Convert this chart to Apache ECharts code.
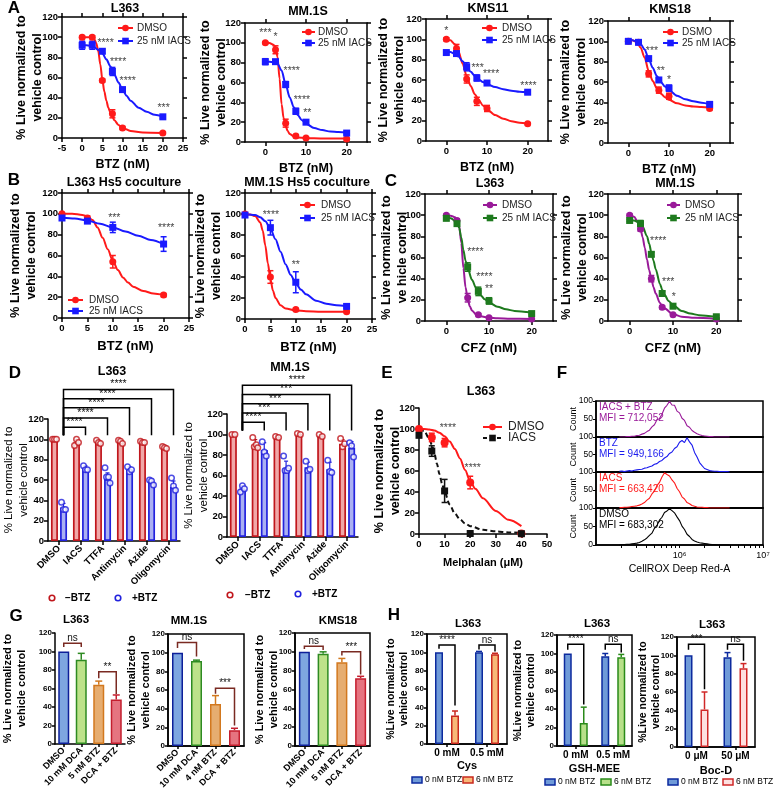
<!DOCTYPE html>
<html>
<head>
<meta charset="utf-8">
<title>Figure</title>
<script src="https://cdn.jsdelivr.net/npm/echarts@6.0.0/dist/echarts.min.js"></script>
<style>
html,body{margin:0;padding:0;background:#fff;}
#chart{width:780px;height:792px;}
</style>
</head>
<body>
<div id="chart"></div>
<script>
// ================= DATA =================
const btzDose = [0, 2.5, 5, 7.5, 10, 20];
const hs5Dose = [0, 5, 10, 20];
const cfzDose = [0, 2.5, 5, 7.5, 10, 20];
const melDose = [0, 5, 10, 20, 40];

// A - L363
const aL363Dmso = [100, 100, 57, 24, 10, 5];
const aL363DmsoErr = [1.5, 1.5, 1.5, 4, 1.5, 1];
const aL363Iacs = [92, 92, 86, 66, 48, 21];
const aL363IacsErr = [4, 4, 2, 4, 2, 1.5];
const aL363DmsoFitX = [0, 1, 2, 2.5, 3, 3.5, 4, 4.5, 5, 5.5, 6, 6.5, 7, 7.5, 8, 9, 10, 12, 15, 20];
const aL363DmsoFitY = [100, 100, 100, 99.5, 98, 94, 86, 73, 58, 46, 37, 30, 25, 21, 17.5, 13, 10, 7, 5.5, 5];
const aL363IacsFitX = [0, 1, 2, 3, 4, 5, 6, 7, 8, 9, 10, 11, 12, 14, 16, 18, 20];
const aL363IacsFitY = [92, 92, 91.5, 90, 87.5, 84, 78, 71, 63, 55, 48, 42, 37, 30, 26, 23, 21];
const aL363Stars = [[5.8, 94, '****'], [8.9, 75, '****'], [11.3, 56, '****'], [20.2, 30, '***']];

// A - MM.1S
const aMM1SDmso = [100, 93, 19, 6, 4, 3];
const aMM1SDmsoErr = [1, 4, 4, 1.5, 1, 1];
const aMM1SIacs = [81, 81, 58, 31, 20, 9];
const aMM1SIacsErr = [3, 2, 3, 3, 2, 1];
const aMM1SDmsoFitX = [0, 1, 2, 2.5, 3, 3.5, 4, 4.5, 5, 5.5, 6, 7, 8, 10, 12, 15, 20];
const aMM1SDmsoFitY = [100, 99.8, 98, 95, 86, 64, 38, 24, 16, 11, 8, 5.5, 4.5, 4, 3.7, 3.5, 3.5];
const aMM1SIacsFitX = [0, 1, 2, 3, 4, 5, 6, 7, 8, 9, 10, 12, 14, 16, 18, 20];
const aMM1SIacsFitY = [81, 81, 80.5, 79, 72, 58, 45, 35, 27, 22, 18.5, 14, 12, 10.5, 10, 9.5];
const aMM1SStars = [[0, 110, '***'], [2.5, 106, '*'], [6.5, 71, '****'], [9, 42, '****'], [10.3, 29, '**']];

// A - KMS11
const aKMS11Dmso = [100, 91, 61, 39, 32, 17];
const aKMS11DmsoErr = [1.5, 4, 4, 4, 3, 1];
const aKMS11Iacs = [87, 86, 73, 62, 57, 48];
const aKMS11IacsErr = [1.5, 2, 4, 3, 2, 1.5];
const aKMS11DmsoFitX = [0, 1, 2, 3, 4, 5, 6, 7, 8, 9, 10, 12, 14, 16, 18, 20];
const aKMS11DmsoFitY = [100, 99, 95.5, 88, 76, 64, 54, 46, 40, 35, 31, 25.5, 22, 19.5, 18, 17];
const aKMS11IacsFitX = [0, 1, 2, 3, 4, 5, 6, 7, 8, 9, 10, 12, 14, 16, 18, 20];
const aKMS11IacsFitY = [88, 87.5, 86, 83, 78.5, 73, 68, 64, 60.5, 58, 56, 53, 51, 49.5, 48.5, 48];
const aKMS11Stars = [[0, 108, '*'], [7.7, 72, '***'], [11, 66, '****'], [20.2, 54, '****']];

// A - KMS18
const aKMS18Dmso = [100, 99, 68, 52, 46, 34];
const aKMS18DmsoErr = [1, 1, 3, 3, 3, 1.5];
const aKMS18Iacs = [100, 99, 83, 62, 54, 38];
const aKMS18IacsErr = [1, 1, 2, 2, 3, 1.5];
const aKMS18DmsoFitX = [0, 1, 2, 3, 4, 5, 6, 7, 8, 9, 10, 12, 14, 16, 18, 20];
const aKMS18DmsoFitY = [101, 101, 99.5, 94, 84, 71, 61, 54, 48.5, 45, 42.5, 39, 37, 36, 35.5, 35];
const aKMS18IacsFitX = [0, 1, 2, 3, 4, 5, 6, 7, 8, 9, 10, 12, 14, 16, 18, 20];
const aKMS18IacsFitY = [101, 101, 100, 97.5, 92, 83, 74, 66, 60, 55.5, 52, 46.5, 43, 41, 39.5, 38];
const aKMS18Stars = [[5.8, 90, '***'], [8, 71, '**'], [10, 62, '*']];

// B - L363 Hs5 coculture
const bL363Dmso = [100, 96, 54, 22];
const bL363DmsoErr = [1, 2, 6, 1.5];
const bL363Iacs = [96, 93, 87, 71];
const bL363IacsErr = [1.5, 2, 5, 7];
const bL363DmsoFitX = [0, 2, 4, 5, 6, 7, 8, 9, 10, 11, 12, 13, 14, 16, 18, 20];
const bL363DmsoFitY = [100, 100, 99, 97.5, 94, 87, 77, 66, 55, 46, 39, 34, 30, 26, 23.5, 22];
const bL363IacsFitX = [0, 2.5, 5, 7.5, 10, 12.5, 15, 17.5, 20];
const bL363IacsFitY = [96.5, 95.5, 93.5, 90.5, 87, 83, 79, 75, 71];
const bL363Stars = [[10.3, 96, '***'], [20.5, 86, '****']];

// B - MM.1S Hs5 coculture
const bMM1SDmso = [100, 40, 9, 7];
const bMM1SDmsoErr = [1, 6, 1, 1];
const bMM1SIacs = [99, 87, 35, 12];
const bMM1SIacsErr = [1, 7, 10, 1.5];
const bMM1SDmsoFitX = [0, 1, 2, 3, 3.5, 4, 4.5, 5, 5.5, 6, 7, 8, 10, 12, 15, 20];
const bMM1SDmsoFitY = [100, 99.5, 98, 92, 84, 70, 53, 38, 27, 20, 13, 10, 8, 7.5, 7, 7];
const bMM1SIacsFitX = [0, 2, 3, 4, 5, 6, 7, 8, 9, 10, 11, 12, 14, 16, 18, 20];
const bMM1SIacsFitY = [100, 99, 97, 93, 86, 76, 64, 52, 42, 34, 28, 23.5, 17.5, 14.5, 13, 12];
const bMM1SStars = [[5.1, 99, '****'], [10, 51, '**']];

// C - L363 CFZ
const cL363Dmso = [100, 95, 22, 6, 3, 2];
const cL363DmsoErr = [1, 1.5, 4, 1, 1, 0.5];
const cL363Iacs = [97, 92, 51, 28, 19, 7];
const cL363IacsErr = [1.5, 1.5, 4, 4, 3, 1];
const cL363DmsoFitX = [0, 1, 2, 2.5, 3, 3.5, 4, 4.5, 5, 5.5, 6, 7, 8, 10, 12, 15, 20];
const cL363DmsoFitY = [100, 99.5, 98, 96, 90, 74, 50, 32, 21, 14, 10, 6, 4.5, 3, 2.6, 2.2, 2];
const cL363IacsFitX = [0, 1, 2, 2.5, 3, 3.5, 4, 4.5, 5, 6, 7, 7.5, 8, 9, 10, 12, 14, 16, 20];
const cL363IacsFitY = [98, 97, 95, 93, 88, 79, 67, 57, 50, 39, 31, 27.5, 24.5, 20.5, 17.5, 13.5, 11, 9.5, 8];
const cL363Stars = [[6.8, 65, '****'], [8.9, 41.5, '****'], [10, 30, '**']];

// C - MM.1S CFZ
const cMM1SDmso = [100, 87, 40, 13, 6, 2];
const cMM1SDmsoErr = [1, 2, 3, 1.5, 1, 0.5];
const cMM1SIacs = [95, 92, 63, 26, 14, 4];
const cMM1SIacsErr = [1, 3, 2, 2, 2, 1];
const cMM1SDmsoFitX = [0, 1, 2, 2.5, 3, 3.5, 4, 4.5, 5, 5.5, 6, 7, 7.5, 8, 10, 12, 15, 20];
const cMM1SDmsoFitY = [100, 98.5, 93, 87, 79, 69, 58, 48, 40, 32, 26, 17, 14, 12, 6.5, 4, 3, 2];
const cMM1SIacsFitX = [0, 1, 2, 2.5, 3, 4, 4.5, 5, 5.5, 6, 7, 7.5, 8, 9, 10, 12, 14, 16, 20];
const cMM1SIacsFitY = [95.5, 95, 93.5, 92, 89, 80, 73, 65, 57, 49, 35, 29.5, 25, 19, 15, 9.5, 7, 5.5, 4];
const cMM1SStars = [[6.6, 75.7, '****'], [8.9, 36.5, '***'], [10.2, 23, '*']];

// D - mitochondrial inhibitors
const dCats = ['DMSO', 'IACS', 'TTFA', 'Antimycin', 'Azide', 'Oligomycin'];
const dL363Minus = [100, 97, 97.5, 97.5, 97.5, 92];
const dL363MinusErr = [0.5, 3, 1.5, 1.5, 0.5, 1];
const dL363Plus = [33, 71, 61, 70, 58, 53];
const dL363PlusErr = [4, 3, 6, 3, 3, 6];
const dL363MinusPts = [[100, 100, 100], [94, 100, 97], [99, 97, 96], [99, 98, 96], [98, 97, 97], [93, 92, 91]];
const dL363PlusPts = [[38, 31, 31], [74, 70, 70], [72, 63, 63, 57], [73, 68, 70], [60, 59, 55], [62, 54, 50]];
const dL363Brackets = [[1, 112, '****'], [2, 121, '****'], [3, 131, '****'], [4, 140, '****'], [5, 149, '****']];

const dMM1SMinus = [100, 90, 98, 100.5, 99, 91];
const dMM1SMinusErr = [0.5, 5, 1, 1, 1, 4];
const dMM1SPlus = [47, 85, 67, 68, 66, 87];
const dMM1SPlusErr = [3, 7, 7, 5, 7, 6];
const dMM1SMinusPts = [[100, 100], [97, 88, 90, 87], [98, 97], [101, 100], [100, 98], [96, 88, 91]];
const dMM1SPlusPts = [[44, 50, 47], [93, 83, 79], [79, 65, 65, 67], [74, 65, 66], [75, 64, 63], [92, 89, 78]];
const dMM1SBrackets = [[1, 112, '****'], [2, 121, '***'], [3, 130, '***'], [4, 139, '***'], [5, 148, '****']];

// E - Melphalan
const eDmso = [100, 92, 87, 49, 0.5];
const eDmsoErr = [1, 4, 4, 6, 0.5];
const eIacs = [94, 79, 41, 0.5, 0.3];
const eIacsErr = [2, 5, 11, 0.5, 0.3];
const eDmsoFitX = [0, 2, 4, 6, 8, 10, 12, 14, 16, 18, 20, 22, 25, 30, 35, 40];
const eDmsoFitY = [100, 100, 99.5, 98.5, 96.5, 93, 88, 81, 72, 61, 50, 43, 34, 22, 13.5, 7.5];
const eIacsFitX = [0, 2, 4, 5, 6, 7, 8, 9, 10, 12, 14, 16, 18, 20, 25, 30, 35, 40];
const eIacsFitY = [100, 98, 91, 85, 77, 67, 57, 48, 40, 28, 19.5, 14, 10, 7.5, 4, 2.5, 1.5, 1];
const eStars = [[11.3, 101, '****'], [21, 63, '****']];

// F - CellROX histograms (x = log10 fluorescence)
const histX = [5.28, 5.31, 5.34, 5.37, 5.40, 5.43, 5.46, 5.49, 5.52, 5.55, 5.58, 5.61, 5.64, 5.67, 5.70, 5.73, 5.76, 5.79, 5.82, 5.85, 5.88, 5.91, 5.94, 5.97, 6.00, 6.03, 6.06, 6.09, 6.12, 6.15, 6.18, 6.21, 6.24, 6.27, 6.30, 6.33, 6.36, 6.39, 6.42, 6.45, 6.48, 6.51, 6.54, 6.57, 6.60];
const histIacsBtz = [0, 0, 0, 1, 1, 2, 2, 4, 5, 8, 10, 15, 19, 28, 34, 48, 51, 63, 80, 88, 99, 89, 88, 72, 67, 52, 46, 31, 27, 18, 13, 9, 6, 4, 3, 2, 1, 1, 0, 0, 0, 0, 0, 0, 0];
const histBtz = [2, 3, 1, 3, 4, 3, 5, 6, 7, 8, 11, 12, 15, 17, 22, 24, 30, 33, 40, 44, 53, 57, 67, 72, 85, 90, 84, 98, 86, 77, 56, 43, 27, 18, 10, 7, 4, 3, 2, 2, 1, 1, 1, 1, 0];
const histIacs = [1, 1, 2, 2, 3, 4, 5, 6, 8, 11, 15, 22, 27, 39, 47, 62, 71, 86, 98, 93, 89, 78, 70, 55, 45, 31, 25, 15, 12, 7, 5, 3, 2, 2, 1, 1, 0, 0, 0, 0, 0, 0, 0, 0, 0];
const histDmso = [0, 1, 1, 2, 2, 3, 4, 5, 7, 10, 14, 19, 26, 32, 45, 53, 67, 75, 88, 92, 98, 93, 87, 76, 66, 51, 42, 29, 23, 15, 11, 8, 6, 5, 4, 3, 2, 1, 1, 0, 0, 0, 0, 0, 0];
const histLabels = ['IACS + BTZ', 'BTZ', 'IACS', 'DMSO'];
const histMfi = ['MFI = 712,052', 'MFI = 949,166', 'MFI = 663,420', 'MFI = 683,302'];
const histTicks = [5.301, 5.477, 5.602, 5.699, 5.778, 5.845, 5.903, 5.954, 6, 6.301, 6.477, 6.602, 6.699, 6.778, 6.845, 6.903, 6.954, 7];

// G - DCA
const gCatsL363 = ['DMSO', '10 mM DCA', '5 nM BTZ', 'DCA + BTZ'];
const gCatsMM1S = ['DMSO', '10 mM DCA', '4 nM BTZ', 'DCA + BTZ'];
const gCatsKMS18 = ['DMSO', '10 mM DCA', '5 nM BTZ', 'DCA + BTZ'];
const gL363 = [100, 91, 64, 48];
const gL363Err = [0, 7, 4, 5];
const gMM1S = [100, 91, 45, 17];
const gMM1SErr = [0, 1, 9, 2];
const gKMS18 = [100, 98, 89, 72];
const gKMS18Err = [0, 2, 4, 2];
const gL363Br = [[0, 1, 109, 105, 105, 'ns'], [2, 3, 78, 71, 54, '**']];
const gMM1SBr = [[0, 1, 111, 105, 96, 'ns'], [2, 3, 62, 56, 22, '***']];
const gKMS18Br = [[0, 1, 106, 103, 102, 'ns'], [2, 3, 100, 96, 76, '***']];

// H - antioxidants
const hCatsCys = ['0 mM', '0.5 mM'];
const hCatsGsh = ['0 mM', '0.5 mM'];
const hCatsBoc = ['0 \u03bcM', '50 \u03bcM'];
const hCysCtl = [100, 100];
const hCysCtlErr = [0, 1];
const hCysBtz = [31, 98];
const hCysBtzErr = [5, 1];
const hGshCtl = [100, 97];
const hGshCtlErr = [0, 3];
const hGshBtz = [25, 96];
const hGshBtzErr = [17, 3];
const hBocCtl = [100, 98];
const hBocCtlErr = [0, 5];
const hBocBtz = [41, 86];
const hBocBtzErr = [19, 5];
const hCysBr = [[0, 108, 104, 42, '****'], [1, 108, 103, 101, 'ns']];
const hGshBr = [[0, 110, 104, 45, '****'], [1, 110, 104, 101, 'ns']];
const hBocBr = [[0, 112, 106, 63, '***'], [1, 112, 106, 94, 'ns']];

// ================= BUILD =================
const FONT = '"Liberation Sans", Arial, Helvetica, sans-serif';
const NARROW = '"Liberation Sans Narrow", "Liberation Sans", Arial, sans-serif';
const YNAME = '% Live normalized to\nvehicle control';
const RED = '#ff1a1a', BLUE = '#1a1aff', PURPLE = '#991a99', GREEN = '#1e7a1e';

const option = {animation: false, backgroundColor: '#fff', textStyle: {fontFamily: FONT},
  grid: [], xAxis: [], yAxis: [], series: []};
const G = [];

function deep(o) { return JSON.parse(JSON.stringify(o)); }
function axLine() { return {show: true, onZero: false, lineStyle: {color: '#000', width: 1.5}}; }
function axTick(len) { return {show: true, length: len || 4, lineStyle: {color: '#000', width: 1.5}}; }
function axLab(fs, w, m) { return {show: true, color: '#000', fontFamily: FONT, fontSize: fs, fontWeight: w || 'bold', margin: m == null ? 4 : m}; }
function nameStyle(fs, w, lh) { return {color: '#000', fontFamily: FONT, fontSize: fs, fontWeight: w || 'bold', lineHeight: lh || fs + 2}; }
function addGrid(l, t, w, h, box) {
  option.grid.push({left: l, top: t, width: w, height: h, outerBoundsMode: 'none', containLabel: false,
    show: !!box, borderColor: '#000', borderWidth: 1.5, backgroundColor: 'transparent'});
  return option.grid.length - 1;
}
function txt(x, y, s, o) {
  o = o || {};
  G.push({type: 'text', x: x, y: y, rotation: o.rot || 0, silent: true, z: 20,
    style: {text: s, fill: o.color || '#000', font: (o.w || 'bold') + ' ' + (o.fs || 12) + 'px ' + (o.family || FONT),
      textAlign: o.align || 'center', textVerticalAlign: o.va || 'middle', align: o.align || 'center', verticalAlign: o.va || 'middle'}});
}
function legLine(x1, x2, y, color, sym, dashed, label, tx, fs, fam) {
  G.push({type: 'line', silent: true, z: 20, shape: {x1: x1, y1: y, x2: x2, y2: y},
    style: {stroke: color, lineWidth: 2, lineDash: dashed ? [4, 3] : null}});
  const cx = (x1 + x2) / 2;
  if (sym === 'circle') G.push({type: 'circle', silent: true, z: 21, shape: {cx: cx, cy: y, r: 3.3}, style: {fill: color}});
  else G.push({type: 'rect', silent: true, z: 21, shape: {x: cx - 3.3, y: y - 3.3, width: 6.6, height: 6.6}, style: {fill: color}});
  txt(tx, y, label, {w: 'normal', fs: fs || 10, align: 'left', color: '#222', family: fam || NARROW});
}
function errSeries(xi, yi, pts, opt) {
  return {type: 'custom', xAxisIndex: xi, yAxisIndex: yi, silent: true, z: opt.z || 3, data: pts,
    renderItem: function (params, api) {
      const x = api.value(0), y = api.value(1), e = api.value(2);
      if (!(e > 0)) return {type: 'group', children: []};
      const col = opt.colors ? opt.colors[params.dataIndex] : opt.color;
      const top = api.coord([x, y + e]);
      const bot = api.coord([x, opt.up ? y : y - e]);
      const cx = top[0] + (opt.offset || 0);
      const cw = opt.cap || 3, lw = opt.lw || 1.5;
      const ch = [
        {type: 'line', shape: {x1: cx, y1: top[1], x2: cx, y2: bot[1]}, style: {stroke: col, lineWidth: lw}},
        {type: 'line', shape: {x1: cx - cw, y1: top[1], x2: cx + cw, y2: top[1]}, style: {stroke: col, lineWidth: lw}}
      ];
      if (!opt.up) ch.push({type: 'line', shape: {x1: cx - cw, y1: bot[1], x2: cx + cw, y2: bot[1]}, style: {stroke: col, lineWidth: lw}});
      return {type: 'group', children: ch};
    }};
}
function starSeries(xi, yi, stars, fs) {
  return {type: 'scatter', xAxisIndex: xi, yAxisIndex: yi, silent: true, z: 6, symbolSize: 1,
    itemStyle: {color: 'transparent'},
    data: stars.map(s => ({name: s[2], value: [s[0], s[1]]})),
    label: {show: true, position: 'inside', formatter: '{b}', color: '#111', fontFamily: FONT, fontSize: fs || 10.5}};
}

function curvePanel(p) {
  const gi = addGrid(p.l, p.t, p.w, p.h, false);
  const xi = option.xAxis.length, yi = option.yAxis.length;
  const xa = {gridIndex: gi, type: 'value', position: 'bottom', min: p.xmin, max: p.xmax,
    name: p.xname, nameLocation: 'middle', nameGap: p.xng, nameMoveOverlap: false, nameTextStyle: nameStyle(p.xnfs || 12.5),
    axisLine: axLine(), axisTick: axTick(4), axisLabel: axLab(p.tfs || 9.5, 'bold', 5), splitLine: {show: false}};
  if (p.xint) xa.interval = p.xint;
  if (p.xvals) { xa.axisLabel.customValues = p.xvals; xa.axisTick.customValues = p.xvals; }
  const ya = {gridIndex: gi, type: 'value', position: 'left', min: 0, max: 120, interval: 20,
    name: p.yname || YNAME, nameLocation: 'middle', nameRotate: 90, nameGap: p.yng, nameMoveOverlap: false,
    nameTextStyle: nameStyle(p.ynfs || 12.5, 'bold', p.ynlh || 15.5),
    axisLine: axLine(), axisTick: axTick(4), axisLabel: axLab(p.tfs || 9.5, 'bold', 4), splitLine: {show: false}};
  option.xAxis.push(xa); option.yAxis.push(ya);
  if (p.box) {
    const xb = deep(xa); xb.position = 'top'; xb.name = ''; xb.axisLabel.show = false; option.xAxis.push(xb);
    const yb = deep(ya); yb.position = 'right'; yb.name = ''; yb.axisLabel.show = false; option.yAxis.push(yb);
  }
  p.curves.forEach(c => {
    option.series.push({type: 'line', xAxisIndex: xi, yAxisIndex: yi, silent: true, z: 2,
      data: c.fx.map((x, i) => [x, c.fy[i]]), smooth: 0.3, smoothMonotone: 'x', symbol: 'none', showSymbol: false,
      lineStyle: {color: c.color, width: 2, type: c.dashed ? [5, 3] : 'solid'}});
    option.series.push(errSeries(xi, yi, c.x.map((x, i) => [x, c.y[i], c.err[i]]), {color: c.color, cap: 3, lw: 1.5}));
    option.series.push({type: 'scatter', xAxisIndex: xi, yAxisIndex: yi, silent: true, z: 4,
      data: c.x.map((x, i) => [x, c.y[i]]), symbol: c.symbol, symbolSize: c.size || 7,
      itemStyle: {color: c.color, opacity: 1}});
  });
  if (p.stars) option.series.push(starSeries(xi, yi, p.stars));
  return [xi, yi];
}

// ---------- Row A ----------
curvePanel({l: 62, t: 17, w: 121, h: 121, xmin: -5, xmax: 25, xint: 5, xname: 'BTZ (nM)', xng: 19, yng: 17, box: true,
  curves: [
    {color: RED, symbol: 'circle', x: btzDose, y: aL363Dmso, err: aL363DmsoErr, fx: aL363DmsoFitX, fy: aL363DmsoFitY},
    {color: BLUE, symbol: 'rect', x: btzDose, y: aL363Iacs, err: aL363IacsErr, fx: aL363IacsFitX, fy: aL363IacsFitY}],
  stars: aL363Stars});
curvePanel({l: 245, t: 23, w: 122, h: 119, xmin: -5, xmax: 25, xvals: [0, 10, 20], xname: 'BTZ (nM)', xng: 19, yng: 16, box: true,
  curves: [
    {color: RED, symbol: 'circle', x: btzDose, y: aMM1SDmso, err: aMM1SDmsoErr, fx: aMM1SDmsoFitX, fy: aMM1SDmsoFitY},
    {color: BLUE, symbol: 'rect', x: btzDose, y: aMM1SIacs, err: aMM1SIacsErr, fx: aMM1SIacsFitX, fy: aMM1SIacsFitY}],
  stars: aMM1SStars});
curvePanel({l: 426, t: 19, w: 122, h: 122, xmin: -5, xmax: 25, xvals: [0, 10, 20], xname: 'BTZ (nM)', xng: 19, yng: 19, box: true,
  curves: [
    {color: RED, symbol: 'circle', x: btzDose, y: aKMS11Dmso, err: aKMS11DmsoErr, fx: aKMS11DmsoFitX, fy: aKMS11DmsoFitY},
    {color: BLUE, symbol: 'rect', x: btzDose, y: aKMS11Iacs, err: aKMS11IacsErr, fx: aKMS11IacsFitX, fy: aKMS11IacsFitY}],
  stars: aKMS11Stars});
curvePanel({l: 608, t: 21, w: 122, h: 122, xmin: -5, xmax: 25, xvals: [0, 10, 20], xname: 'BTZ (nM)', xng: 19, yng: 19, box: true,
  curves: [
    {color: RED, symbol: 'circle', x: btzDose, y: aKMS18Dmso, err: aKMS18DmsoErr, fx: aKMS18DmsoFitX, fy: aKMS18DmsoFitY},
    {color: BLUE, symbol: 'rect', x: btzDose, y: aKMS18Iacs, err: aKMS18IacsErr, fx: aKMS18IacsFitX, fy: aKMS18IacsFitY}],
  stars: aKMS18Stars});

// ---------- Row B ----------
curvePanel({l: 62, t: 193, w: 127, h: 125, xmin: 0, xmax: 25, xint: 5, xname: 'BTZ (nM)', xng: 21, xnfs: 13, yng: 23, box: true,
  curves: [
    {color: RED, symbol: 'circle', x: hs5Dose, y: bL363Dmso, err: bL363DmsoErr, fx: bL363DmsoFitX, fy: bL363DmsoFitY},
    {color: BLUE, symbol: 'rect', x: hs5Dose, y: bL363Iacs, err: bL363IacsErr, fx: bL363IacsFitX, fy: bL363IacsFitY}],
  stars: bL363Stars});
curvePanel({l: 245, t: 193, w: 127, h: 126, xmin: 0, xmax: 25, xint: 5, xname: 'BTZ (nM)', xng: 21, xnfs: 13, yng: 21, box: true,
  curves: [
    {color: RED, symbol: 'circle', x: hs5Dose, y: bMM1SDmso, err: bMM1SDmsoErr, fx: bMM1SDmsoFitX, fy: bMM1SDmsoFitY},
    {color: BLUE, symbol: 'rect', x: hs5Dose, y: bMM1SIacs, err: bMM1SIacsErr, fx: bMM1SIacsFitX, fy: bMM1SIacsFitY}],
  stars: bMM1SStars});

// ---------- Row C ----------
curvePanel({l: 425, t: 194, w: 128, h: 127, xmin: -5, xmax: 25, xvals: [0, 10, 20], xname: 'CFZ (nM)', xng: 20, xnfs: 13, yng: 15, box: true,
  yname: '% Live normalized to\nve hicle control',
  curves: [
    {color: PURPLE, symbol: 'circle', x: cfzDose, y: cL363Dmso, err: cL363DmsoErr, fx: cL363DmsoFitX, fy: cL363DmsoFitY},
    {color: GREEN, symbol: 'rect', x: cfzDose, y: cL363Iacs, err: cL363IacsErr, fx: cL363IacsFitX, fy: cL363IacsFitY}],
  stars: cL363Stars});
curvePanel({l: 608, t: 194, w: 130, h: 127, xmin: -5, xmax: 25, xvals: [0, 10, 20], xname: 'CFZ (nM)', xng: 20, xnfs: 13, yng: 18, box: true,
  curves: [
    {color: PURPLE, symbol: 'circle', x: cfzDose, y: cMM1SDmso, err: cMM1SDmsoErr, fx: cMM1SDmsoFitX, fy: cMM1SDmsoFitY},
    {color: GREEN, symbol: 'rect', x: cfzDose, y: cMM1SIacs, err: cMM1SIacsErr, fx: cMM1SIacsFitX, fy: cMM1SIacsFitY}],
  stars: cMM1SStars});

// ---------- E ----------
curvePanel({l: 419, t: 408, w: 128, h: 126, xmin: 0, xmax: 50, xint: 10, xname: 'Melphalan (\u03bcM)', xng: 22, xnfs: 11, yng: 16, box: false,
  curves: [
    {color: RED, symbol: 'circle', size: 8, x: melDose, y: eDmso, err: eDmsoErr, fx: eDmsoFitX, fy: eDmsoFitY},
    {color: '#111', symbol: 'rect', x: melDose, y: eIacs, err: eIacsErr, fx: eIacsFitX, fy: eIacsFitY, dashed: true}],
  stars: eStars});

// ---------- D ----------
const jitter = {1: [0], 2: [-1.5, 1.5], 3: [-2, 0, 2], 4: [-2.5, -1, 1, 2.5]};
function dPanel(p) {
  const gi = addGrid(p.l, p.t, p.w, p.h, false);
  const xi = option.xAxis.length, yi = option.yAxis.length;
  option.xAxis.push({gridIndex: gi, type: 'category', data: dCats, axisLine: axLine(),
    axisTick: Object.assign(axTick(4), {alignWithLabel: true}),
    axisLabel: Object.assign(axLab(9.5, 'bold', 6), {rotate: 45, interval: 0}), splitLine: {show: false}});
  option.yAxis.push({gridIndex: gi, type: 'value', min: 0, max: 120, interval: 20, name: YNAME, nameLocation: 'middle',
    nameRotate: 90, nameGap: p.yng, nameMoveOverlap: false, nameTextStyle: nameStyle(11.5, 'normal', 15),
    axisLine: axLine(), axisTick: axTick(4), axisLabel: axLab(9.5, 'bold', 4), splitLine: {show: false}});
  option.series.push({type: 'bar', xAxisIndex: xi, yAxisIndex: yi, silent: true, z: 2, data: p.minus, barWidth: 7, barGap: '30%',
    itemStyle: {color: '#f0a8a8', borderColor: '#c0161c', borderWidth: 1.7}});
  option.series.push({type: 'bar', xAxisIndex: xi, yAxisIndex: yi, silent: true, z: 2, data: p.plus, barWidth: 7, barGap: '30%',
    itemStyle: {color: '#aab0f2', borderColor: '#2222dd', borderWidth: 1.7}});
  option.series.push(errSeries(xi, yi, p.minus.map((v, i) => [i, v, p.minusErr[i]]), {color: '#c0161c', offset: -4.5, up: true, cap: 2, lw: 1.2}));
  option.series.push(errSeries(xi, yi, p.plus.map((v, i) => [i, v, p.plusErr[i]]), {color: '#2222dd', offset: 4.5, up: true, cap: 2, lw: 1.2}));
  const mk = (pts, base) => {
    const out = [];
    pts.forEach((arr, i) => arr.forEach((v, j) => out.push({value: [i, v], symbolOffset: [base + jitter[arr.length][j], 0]})));
    return out;
  };
  option.series.push({type: 'scatter', xAxisIndex: xi, yAxisIndex: yi, silent: true, z: 5, data: mk(p.minusPts, -4.5),
    symbol: 'circle', symbolSize: 5.5, itemStyle: {color: '#fff', borderColor: '#c0161c', borderWidth: 1.5}});
  option.series.push({type: 'scatter', xAxisIndex: xi, yAxisIndex: yi, silent: true, z: 5, data: mk(p.plusPts, 4.5),
    symbol: 'circle', symbolSize: 5.5, itemStyle: {color: '#fff', borderColor: '#2222dd', borderWidth: 1.5}});
  return [xi, yi];
}
const axD1 = dPanel({l: 48, t: 419, w: 132, h: 122, yng: 17, minus: dL363Minus, minusErr: dL363MinusErr, plus: dL363Plus, plusErr: dL363PlusErr,
  minusPts: dL363MinusPts, plusPts: dL363PlusPts});
const axD2 = dPanel({l: 227, t: 414, w: 131, h: 123, yng: 16, minus: dMM1SMinus, minusErr: dMM1SMinusErr, plus: dMM1SPlus, plusErr: dMM1SPlusErr,
  minusPts: dMM1SMinusPts, plusPts: dMM1SPlusPts});

// ---------- F ----------
const fTops = [401, 437, 472, 508];
const fHeights = [36, 35, 36, 37];
const fData = [histIacsBtz, histBtz, histIacs, histDmso];
const fColors = [PURPLE, '#1a1aee', '#ff1a1a', '#000'];
fData.forEach((h, k) => {
  const last = k === 3;
  const gi = addGrid(596, fTops[k], 167, fHeights[k], true);
  const xi = option.xAxis.length, yi = option.yAxis.length;
  option.xAxis.push({gridIndex: gi, type: 'value', min: 5, max: 7,
    name: last ? 'CellROX Deep Red-A' : '', nameLocation: 'middle', nameGap: 18, nameMoveOverlap: false,
    nameTextStyle: nameStyle(10.5, 'normal'),
    axisLine: axLine(), axisTick: {show: last, length: 3, customValues: histTicks, lineStyle: {color: '#000', width: 1}},
    axisLabel: {show: last, customValues: [6, 7], formatter: v => (v === 6 ? '10\u2076' : '10\u2077'), color: '#000',
      fontFamily: FONT, fontSize: 9, margin: 6}, splitLine: {show: false}});
  option.yAxis.push({gridIndex: gi, type: 'value', min: 0, max: 100, name: 'Count', nameLocation: 'middle', nameRotate: 90,
    nameGap: 17, nameMoveOverlap: false, nameTextStyle: nameStyle(9, 'normal'),
    axisLine: axLine(), axisTick: {show: true, length: 3, customValues: [0, 50, 100], lineStyle: {color: '#000', width: 1}},
    axisLabel: {show: true, customValues: last ? [0, 50, 100] : [50, 100], color: '#000', fontFamily: FONT, fontSize: 8.5, margin: 3},
    splitLine: {show: false}});
  option.series.push({type: 'line', xAxisIndex: xi, yAxisIndex: yi, silent: true, symbol: 'none', showSymbol: false,
    data: histX.map((x, i) => [x, h[i]]), lineStyle: {color: fColors[k], width: 1.1}});
  txt(599, fTops[k] + 6, histLabels[k], {w: 'normal', fs: 10, align: 'left', color: fColors[k]});
  txt(599, fTops[k] + 17, histMfi[k], {w: 'normal', fs: 10, align: 'left', color: fColors[k]});
});

// ---------- G ----------
const gFill = ['#7ea6e0', '#bde28a', '#e6ad70', '#e57480'];
const gEdge = ['#0d1f99', '#2e8b22', '#d2781e', '#c41e2e'];
function gPanel(p) {
  const gi = addGrid(p.l, p.t, p.w, p.h, p.box);
  const xi = option.xAxis.length, yi = option.yAxis.length;
  option.xAxis.push({gridIndex: gi, type: 'category', data: p.cats, axisLine: axLine(),
    axisTick: Object.assign(axTick(3), {alignWithLabel: true}),
    axisLabel: Object.assign(axLab(9, 'bold', 5), {rotate: 45, interval: 0}), splitLine: {show: false}});
  option.yAxis.push({gridIndex: gi, type: 'value', min: 0, max: 120, interval: 20, name: YNAME, nameLocation: 'middle',
    nameRotate: 90, nameGap: p.yng, nameMoveOverlap: false, nameTextStyle: nameStyle(11, 'bold', 14),
    axisLine: axLine(), axisTick: axTick(3), axisLabel: axLab(8, 'bold', 3), splitLine: {show: false}});
  option.series.push({type: 'bar', xAxisIndex: xi, yAxisIndex: yi, silent: true, z: 2, barWidth: 11,
    data: p.vals.map((v, i) => ({value: v, itemStyle: {color: gFill[i], borderColor: gEdge[i], borderWidth: 1.5}}))});
  option.series.push(errSeries(xi, yi, p.vals.map((v, i) => [i, v, p.errs[i]]), {colors: gEdge, up: true, cap: 3.5, lw: 1.5}));
  return [xi, yi];
}
const axG1 = gPanel({l: 55, t: 633, w: 70, h: 111, box: false, yng: 26, cats: gCatsL363, vals: gL363, errs: gL363Err});
const axG2 = gPanel({l: 168, t: 634, w: 76, h: 112, box: true, yng: 15, cats: gCatsMM1S, vals: gMM1S, errs: gMM1SErr});
const axG3 = gPanel({l: 295, t: 633, w: 75, h: 113, box: true, yng: 14, cats: gCatsKMS18, vals: gKMS18, errs: gKMS18Err});

// ---------- H ----------
function hPanel(p) {
  const gi = addGrid(p.l, p.t, p.w, p.h, true);
  const xi = option.xAxis.length, yi = option.yAxis.length;
  option.xAxis.push({gridIndex: gi, type: 'category', data: p.cats, name: p.xname, nameLocation: 'middle', nameGap: p.xng,
    nameMoveOverlap: false, nameTextStyle: nameStyle(11, 'bold'), axisLine: axLine(),
    axisTick: Object.assign(axTick(3), {alignWithLabel: true}), axisLabel: Object.assign(axLab(10, 'bold', 4), {interval: 0}),
    splitLine: {show: false}});
  option.yAxis.push({gridIndex: gi, type: 'value', min: 0, max: 120, interval: 20, name: '%Live normalized to\nvehicle control',
    nameLocation: 'middle', nameRotate: 90, nameGap: p.yng, nameMoveOverlap: false, nameTextStyle: nameStyle(10.5, 'bold', 13),
    axisLine: axLine(), axisTick: axTick(3), axisLabel: axLab(8, 'bold', 3), splitLine: {show: false}});
  option.series.push({type: 'bar', xAxisIndex: xi, yAxisIndex: yi, silent: true, z: 2, barWidth: 8, barGap: '100%', data: p.ctl,
    itemStyle: {color: '#6f9ad8', borderColor: '#0c2a9e', borderWidth: 1.5}});
  option.series.push({type: 'bar', xAxisIndex: xi, yAxisIndex: yi, silent: true, z: 2, barWidth: 8, barGap: '100%', data: p.btz,
    itemStyle: {color: p.fill, borderColor: p.edge, borderWidth: 1.5}});
  option.series.push(errSeries(xi, yi, p.ctl.map((v, i) => [i, v, p.ctlErr[i]]), {color: '#0c2a9e', offset: -8, up: true, cap: 3, lw: 1.5}));
  option.series.push(errSeries(xi, yi, p.btz.map((v, i) => [i, v, p.btzErr[i]]), {color: p.edge, offset: 8, up: true, cap: 3, lw: 1.5}));
  return [xi, yi];
}
const axH1 = hPanel({l: 427, t: 634, w: 80, h: 110, xname: 'Cys', xng: 15, yng: 16, cats: hCatsCys, ctl: hCysCtl, ctlErr: hCysCtlErr,
  btz: hCysBtz, btzErr: hCysBtzErr, fill: '#f8b878', edge: '#c8281e'});
const axH2 = hPanel({l: 557, t: 635, w: 75, h: 111, xname: 'GSH-MEE', xng: 16, yng: 19, cats: hCatsGsh, ctl: hGshCtl, ctlErr: hGshCtlErr,
  btz: hGshBtz, btzErr: hGshBtzErr, fill: '#b8e08a', edge: '#2a8a1a'});
const axH3 = hPanel({l: 677, t: 637, w: 78, h: 110, xname: 'Boc-D', xng: 17, yng: 14, cats: hCatsBoc, ctl: hBocCtl, ctlErr: hBocCtlErr,
  btz: hBocBtz, btzErr: hBocBtzErr, fill: '#fde0e0', edge: '#d02828'});

// ---------- titles, letters, legends ----------
[['A', 14, 8], ['B', 14, 180], ['C', 391, 181], ['D', 15, 373], ['E', 387, 373], ['F', 562, 373], ['G', 16, 616], ['H', 394, 615]]
  .forEach(a => txt(a[1], a[2], a[0], {fs: 17}));
[['L363', 125, 9], ['MM.1S', 308, 12], ['KMS11', 488, 9], ['KMS18', 670, 10],
 ['L363 Hs5 coculture', 124, 183], ['MM.1S Hs5 coculture', 307, 183], ['L363', 490, 184], ['MM.1S', 675, 184],
 ['L363', 112, 372], ['MM.1S', 290, 368], ['L363', 481, 392]].forEach(a => txt(a[1], a[2], a[0], {fs: 12.5}));
[['L363', 76, 620], ['MM.1S', 189, 621], ['KMS18', 338, 621], ['L363', 468, 624], ['L363', 597, 624], ['L363', 712, 625]]
  .forEach(a => txt(a[1], a[2], a[0], {fs: 11.5}));

legLine(118, 133, 28, RED, 'circle', false, 'DMSO', 137);
legLine(118, 133, 41, BLUE, 'rect', false, '25 nM IACS', 137);
legLine(302, 315, 32, RED, 'circle', false, 'DMSO', 318);
legLine(302, 315, 43, BLUE, 'rect', false, '25 nM IACS', 318);
legLine(482, 497, 28, RED, 'circle', false, 'DMSO', 502);
legLine(482, 497, 40, BLUE, 'rect', false, '25 nM IACS', 502);
legLine(663, 678, 32, RED, 'circle', false, 'DSMO', 682);
legLine(663, 678, 43, BLUE, 'rect', false, '25 nM IACS', 682);
legLine(68, 83, 300, RED, 'circle', false, 'DMSO', 89);
legLine(68, 83, 311, BLUE, 'rect', false, '25 nM IACS', 89);
legLine(300, 315, 205, RED, 'circle', false, 'DMSO', 321);
legLine(300, 315, 218, BLUE, 'rect', false, '25 nM IACS', 321);
legLine(483, 497, 205, PURPLE, 'circle', false, 'DMSO', 502);
legLine(483, 497, 218, GREEN, 'rect', false, '25 nM IACS', 502);
legLine(667, 680, 205, PURPLE, 'circle', false, 'DMSO', 685);
legLine(667, 680, 218, GREEN, 'rect', false, '25 nM IACS', 685);
legLine(483, 502, 427, RED, 'circle', false, 'DMSO', 508, 12, FONT);
legLine(483, 502, 438, '#111', 'rect', true, 'IACS', 508, 12, FONT);

function dotLeg(cx, cy, col, label, tx) {
  G.push({type: 'circle', silent: true, z: 20, shape: {cx: cx, cy: cy, r: 2.8}, style: {fill: '#fff', stroke: col, lineWidth: 1.6}});
  txt(tx, cy, label, {fs: 10, align: 'left'});
}
dotLeg(52, 598, '#c0161c', '\u2212BTZ', 65);
dotLeg(118, 598, '#2222dd', '+BTZ', 132);
dotLeg(230, 595, '#c0161c', '\u2212BTZ', 245);
dotLeg(298, 594, '#2222dd', '+BTZ', 312);

function boxLeg(x, y, fill, edge, label) {
  G.push({type: 'rect', silent: true, z: 20, shape: {x: x, y: y - 3, width: 10, height: 6}, style: {fill: fill, stroke: edge, lineWidth: 1.5}});
  txt(x + 13, y, label, {w: 'normal', fs: 8.5, align: 'left', family: NARROW});
}
boxLeg(412, 780, '#6f9ad8', '#0c2a9e', '0 nM BTZ');
boxLeg(463, 780, '#f8b878', '#c8281e', '6 nM BTZ');
boxLeg(545, 782, '#6f9ad8', '#0c2a9e', '0 nM BTZ');
boxLeg(601, 782, '#b8e08a', '#2a8a1a', '6 nM BTZ');
boxLeg(668, 782, '#6f9ad8', '#0c2a9e', '0 nM BTZ');
boxLeg(723, 782, '#fde0e0', '#d02828', '6 nM BTZ');

// ================= RENDER =================
const chart = echarts.init(document.getElementById('chart'), null, {renderer: 'canvas'});
chart.setOption(option);
function P(ax, pt) { return chart.convertToPixel({xAxisIndex: ax[0], yAxisIndex: ax[1]}, pt); }
function bracket(pts, color, label, lx, ly, fs) {
  G.push({type: 'polyline', silent: true, z: 15, shape: {points: pts}, style: {stroke: color, lineWidth: 1.5, fill: null}});
  txt(lx, ly, label, {w: 'normal', fs: fs || 10.5, color: '#111'});
}
[[axD1, dL363Brackets], [axD2, dMM1SBrackets]].forEach(([ax, brs]) => {
  brs.forEach(b => {
    const xA = P(ax, [0, 0])[0] + 4.5;
    const xB = P(ax, [b[0], 0])[0] + 4.5;
    const yT = P(ax, [0, b[1]])[1];
    const yD = P(ax, [0, 104])[1];
    bracket([[xA, yD], [xA, yT], [xB, yT], [xB, yD]], '#000', b[2], (xA + xB) / 2, yT - 5);
  });
});
[[axG1, gL363Br], [axG2, gMM1SBr], [axG3, gKMS18Br]].forEach(([ax, brs]) => {
  brs.forEach(b => {
    const xA = P(ax, [b[0], 0])[0], xB = P(ax, [b[1], 0])[0];
    const yT = P(ax, [0, b[2]])[1], yA = P(ax, [0, b[3]])[1], yB = P(ax, [0, b[4]])[1];
    bracket([[xA, yA], [xA, yT], [xB, yT], [xB, yB]], '#7a2a22', b[5], (xA + xB) / 2, yT - 5, 10);
  });
});
[[axH1, hCysBr], [axH2, hGshBr], [axH3, hBocBr]].forEach(([ax, brs]) => {
  brs.forEach(b => {
    const c = P(ax, [b[0], 0])[0];
    const xA = c - 8, xB = c + 8;
    const yT = P(ax, [0, b[1]])[1], yA = P(ax, [0, b[2]])[1], yB = P(ax, [0, b[3]])[1];
    bracket([[xA, yA], [xA, yT], [xB, yT], [xB, yB]], '#000', b[4], (xA + xB) / 2, yT - 5, 10);
  });
});
chart.setOption({graphic: {elements: G}});
</script>
</body>
</html>
